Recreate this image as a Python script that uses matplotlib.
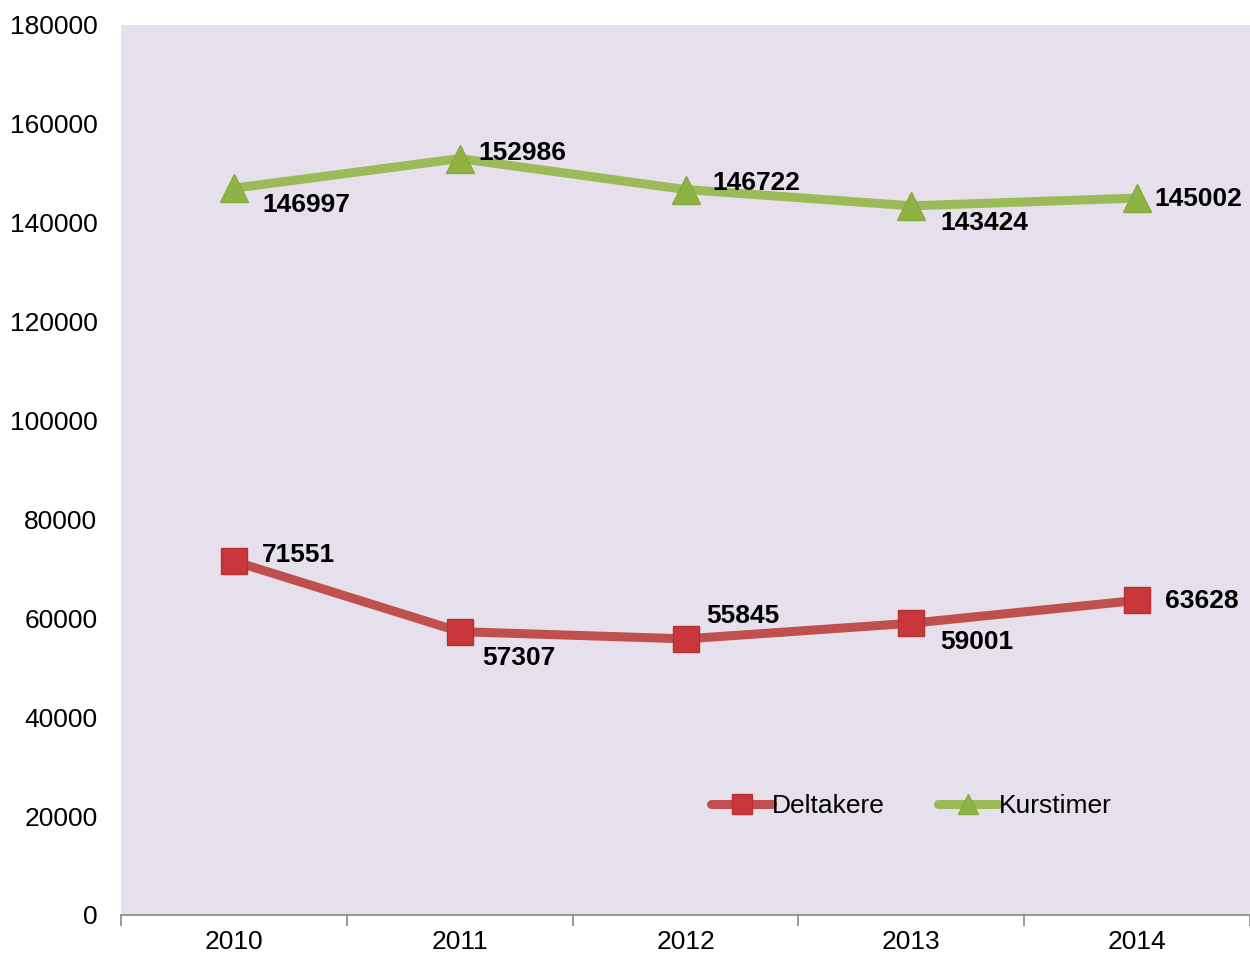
import numpy as np
import matplotlib.pyplot as plt

plt.rcParams['font.family'] = ['Liberation Sans', 'DejaVu Sans']

years      = ['2010', '2011', '2012', '2013', '2014']
deltakere  = [71551, 57307, 55845, 59001, 63628]
kurstimer  = [146997, 152986, 146722, 143424, 145002]

# label offsets in pixels (dx, dy) relative to each point
off_delt = [(28, 6), (23, -26), (21, 23), (29, -19), (28, -1)]
off_kurs = [(28, -17), (19, 6), (27, 7), (29, -17), (17, -1)]

fig = plt.figure(figsize=(12.5, 9.57), dpi=100)
ax = fig.add_axes([121/1250, 42/957, 1129/1250, 890/957])
ax.set_facecolor('#E5E0EC')

x = np.arange(len(years))
ax.plot(x, deltakere, color='#C0504D', lw=6.5, marker='s', ms=19,
        mfc='#C8373A', mec='#B5302F', mew=1, label='Deltakere', solid_capstyle='round')
ax.plot(x, kurstimer, color='#9BBB59', lw=6.5, marker='^', ms=20,
        mfc='#8DB443', mec='#86AA3E', mew=1, label='Kurstimer', solid_capstyle='round')

for xi, v, (dx, dy) in zip(x, deltakere, off_delt):
    ax.annotate(str(v), (xi, v), xytext=(dx, dy), textcoords='offset pixels',
                ha='left', va='center', fontsize=19, fontweight='bold')
for xi, v, (dx, dy) in zip(x, kurstimer, off_kurs):
    ax.annotate(str(v), (xi, v), xytext=(dx, dy), textcoords='offset pixels',
                ha='left', va='center', fontsize=19, fontweight='bold')

ax.set_xlim(-0.5, 4.5)
ax.set_ylim(0, 180000)
ax.set_yticks(range(0, 180001, 20000))
ax.set_xticks(x)
ax.set_xticklabels(years)
ax.set_xticks(np.arange(-0.5, 5, 1), minor=True)
ax.tick_params(axis='x', which='major', length=0, pad=11, labelsize=19)
ax.tick_params(axis='x', which='minor', length=8, color='#888888', width=1.2)
ax.tick_params(axis='y', length=0, pad=17, labelsize=19)

for s in ['top', 'right', 'left']:
    ax.spines[s].set_visible(False)
ax.spines['bottom'].set_color('#888888')
ax.spines['bottom'].set_linewidth(1.2)

ax.legend(loc='center', bbox_to_anchor=(0.70, 0.122), ncol=2, frameon=False,
          fontsize=19, handlelength=2.3, handletextpad=0.0, columnspacing=2.0,
          markerscale=0.75)

fig.savefig('out.png', dpi=100)
